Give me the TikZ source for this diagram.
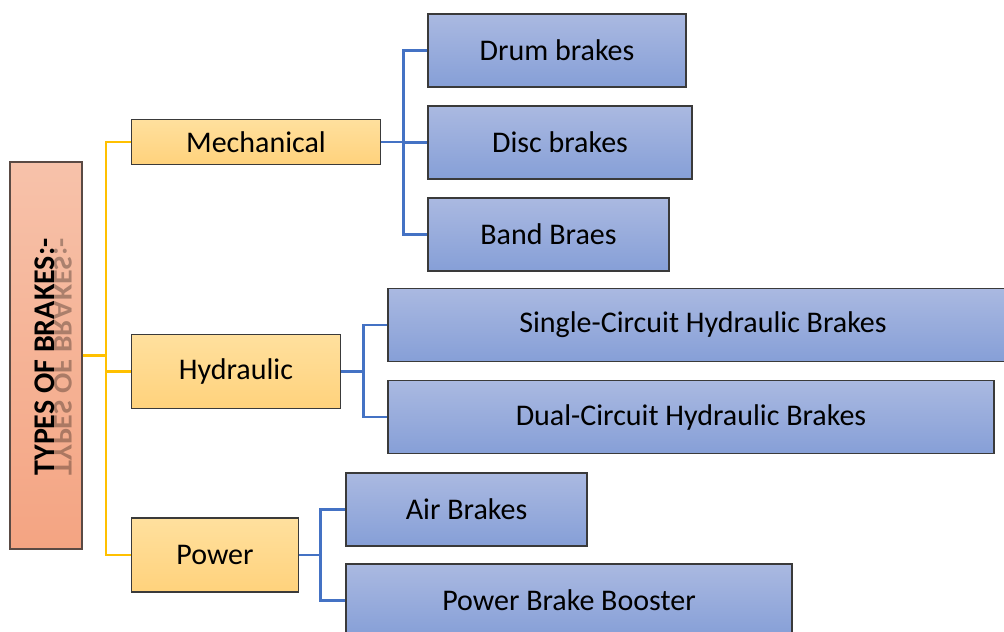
\documentclass[tikz,border=0pt]{standalone}
\usepackage{fontspec}
\setmainfont{Carlito}
\usepackage{graphicx}
\begin{document}
\begin{tikzpicture}[x=0.75pt,y=-0.75pt,
  rootbox/.style={draw=borderRoot, line width=0.9pt, top color=rootTop, bottom color=rootBot, inner sep=0pt},
  catbox/.style={draw=borderDark, line width=0.9pt, top color=catTop, bottom color=catBot, inner sep=0pt, font=\fontsize{22.5}{26}\selectfont},
  leafbox/.style={draw=borderDark, line width=0.9pt, top color=leafTop, bottom color=leafBot, inner sep=0pt, font=\fontsize{22.5}{26}\selectfont},
  yline/.style={draw=yellowLine, line width=1.9pt},
  bline/.style={draw=blueLine, line width=1.9pt}]
\definecolor{rootTop}{HTML}{F7C2AA}
\definecolor{rootBot}{HTML}{F4A482}
\definecolor{catTop}{HTML}{FFE09E}
\definecolor{catBot}{HTML}{FFD27C}
\definecolor{leafTop}{HTML}{AAB9E1}
\definecolor{leafBot}{HTML}{869FD7}
\definecolor{yellowLine}{HTML}{FFC000}
\definecolor{blueLine}{HTML}{4472C4}
\definecolor{borderDark}{HTML}{3A3A3A}
\definecolor{borderRoot}{HTML}{5A4A44}
\clip (0,0) rectangle (1004,632);
\fill[white] (0,0) rectangle (1004,632);
% root
\node[rootbox, minimum width=72*0.75pt, minimum height=387*0.75pt] (root) at (46,355.5) {};
\node[rotate=90, anchor=base, font=\bfseries\fontsize{22.5}{26}\selectfont] (roottext) at (55,357) {TYPES OF BRAKES:-};
\node[rotate=90, anchor=base, font=\bfseries\fontsize{22.5}{26}\selectfont, opacity=0.3] (rootrefl) at (55,357) {\scalebox{1}[-0.9]{TYPES OF BRAKES:-}};
% categories
\node[catbox, minimum width=249*0.75pt, minimum height=45*0.75pt] (mech) at (256,141.8) {Mechanical};
\node[catbox, minimum width=209*0.75pt, minimum height=74*0.75pt] (hyd) at (236,371.3) {Hydraulic};
\node[catbox, minimum width=167*0.75pt, minimum height=74*0.75pt] (pow) at (215,555) {Power};
% leaves
\node[leafbox, minimum width=258*0.75pt, minimum height=73*0.75pt] (drum) at (557,50.5) {Drum brakes};
\node[leafbox, minimum width=264*0.75pt, minimum height=73*0.75pt] (disc) at (560,142.5) {Disc brakes};
\node[leafbox, minimum width=241*0.75pt, minimum height=73*0.75pt] (band) at (548.5,234.5) {Band Braes};
\node[leafbox, minimum width=630*0.75pt, minimum height=73*0.75pt] (single) at (703,325) {Single-Circuit Hydraulic Brakes};
\node[leafbox, minimum width=606*0.75pt, minimum height=73*0.75pt] (dual) at (691,417) {Dual-Circuit Hydraulic Brakes};
\node[leafbox, minimum width=241*0.75pt, minimum height=73*0.75pt] (air) at (466.5,509.5) {Air Brakes};
\node[leafbox, minimum width=446*0.75pt, minimum height=73*0.75pt] (boost) at (569,600.5) {Power Brake Booster};
% yellow connectors
\draw[yline] (root.east) -- ++(24.5,0);
\draw[yline] (mech.west) -- ++(-25,0) |- (pow.west);
\draw[yline] (hyd.west) -- ++(-25,0);
% blue connectors
\draw[bline] (mech.east) -- ++(24,0);
\draw[bline] (drum.west) -- ++(-24,0) |- (band.west);
\draw[bline] (disc.west) -- ++(-24,0);
\draw[bline] (hyd.east) -- ++(23,0);
\draw[bline] (single.west) -- ++(-24,0) |- (dual.west);
\draw[bline] (pow.east) -- ++(23,0);
\draw[bline] (air.west) -- ++(-25,0) |- (boost.west);
\end{tikzpicture}
\end{document}
